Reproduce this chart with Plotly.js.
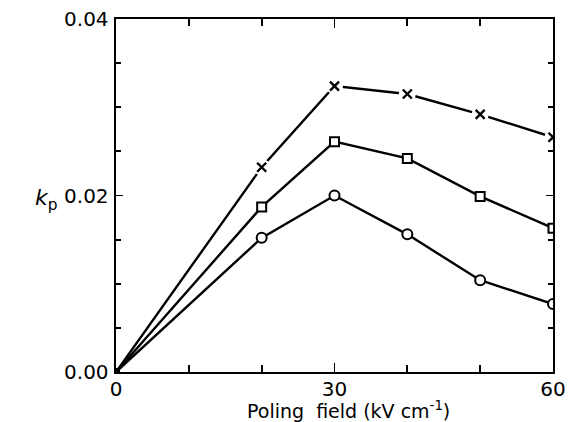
<!DOCTYPE html>
<html><head><meta charset="utf-8">
<script src="https://cdn.plot.ly/plotly-3.0.1.min.js"></script>
<style>html,body{margin:0;padding:0;background:#fff}#c{width:568px;height:422px}</style>
</head><body><div id="c"></div>
<script>
const fields = [0, 20, 30, 40, 50, 60];
const kpCross = [0, 0.0232, 0.0324, 0.0315, 0.0292, 0.0266];
const kpSquare = [0, 0.0187, 0.0261, 0.0242, 0.0199, 0.0163];
const kpCircle = [0, 0.0152, 0.0200, 0.0156, 0.0104, 0.0077];
const xTickVals = [0, 30, 60];
const xTickText = ['0', '30', '60'];
const yTickVals = [0, 0.02, 0.04];
const yTickText = ['0.00', '0.02', '0.04'];

const blk = '#000';
const lineStyle = {color: blk, width: 2.4};
const traces = [
  {x: fields, y: kpCross, mode: 'lines', line: lineStyle},
  {x: fields.slice(1), y: kpCross.slice(1), mode: 'markers', marker: {symbol: 'circle', size: 17, color: '#fff', line: {width: 0}}},
  {x: fields.slice(1), y: kpCross.slice(1), mode: 'markers', marker: {symbol: 'x-thin-open', size: 9, color: blk, line: {color: blk, width: 2.4}}},
  {x: fields, y: kpSquare, mode: 'lines', line: lineStyle},
  {x: fields.slice(1), y: kpSquare.slice(1), mode: 'markers', marker: {symbol: 'square', size: 9, color: '#fff', line: {color: blk, width: 2}}},
  {x: fields, y: kpCircle, mode: 'lines', line: lineStyle},
  {x: fields.slice(1), y: kpCircle.slice(1), mode: 'markers', marker: {symbol: 'circle', size: 10, color: '#fff', line: {color: blk, width: 2}}},
  {x: fields.slice(0,1), y: kpCircle.slice(0,1), mode: 'markers', marker: {symbol: 'square', size: 8, color: blk}}
];
const font = {family: 'DejaVu Sans, Liberation Sans, sans-serif', size: 20, color: blk};
const layout = {
  width: 568, height: 422,
  margin: {l: 116, r: 15, t: 19, b: 50},
  showlegend: false,
  paper_bgcolor: '#fff', plot_bgcolor: '#fff',
  font: font,
  xaxis: {
    range: [0, 60], showgrid: false, zeroline: false,
    showline: true, linecolor: blk, linewidth: 2.4, mirror: 'ticks',
    ticks: 'inside', ticklen: 9, tickwidth: 1.8, tickcolor: blk,
    tickmode: 'array', tickvals: xTickVals, ticktext: xTickText,
    minor: {tickmode: 'linear', tick0: 0, dtick: 10, ticks: 'inside', ticklen: 7, tickwidth: 1.8, tickcolor: blk},
    tickfont: font, ticklabelstandoff: -2
  },
  yaxis: {
    range: [0, 0.04], showgrid: false, zeroline: false,
    showline: true, linecolor: blk, linewidth: 2.4, mirror: 'ticks',
    ticks: 'inside', ticklen: 7, tickwidth: 1.8, tickcolor: blk,
    tickmode: 'array', tickvals: yTickVals, ticktext: yTickText,
    minor: {tickmode: 'linear', tick0: 0, dtick: 0.005, ticks: 'inside', ticklen: 5, tickwidth: 1.8, tickcolor: blk},
    tickfont: font, ticklabelstandoff: 1
  },
  annotations: [{
    xref: 'paper', yref: 'y', x: -0.19, y: 0.0196, showarrow: false,
    text: '<i>k</i><sub>p</sub>', font: {family: font.family, size: 22, color: blk}
  }, {
    xref: 'paper', yref: 'paper', x: 0.531, y: -0.108, yanchor: 'middle', showarrow: false,
    text: 'Poling  field (kV cm<sup>-1</sup>)', font: {family: font.family, size: 19, color: blk}
  }]
};
Plotly.newPlot('c', traces, layout, {displayModeBar: false, staticPlot: true});
</script></body></html>
